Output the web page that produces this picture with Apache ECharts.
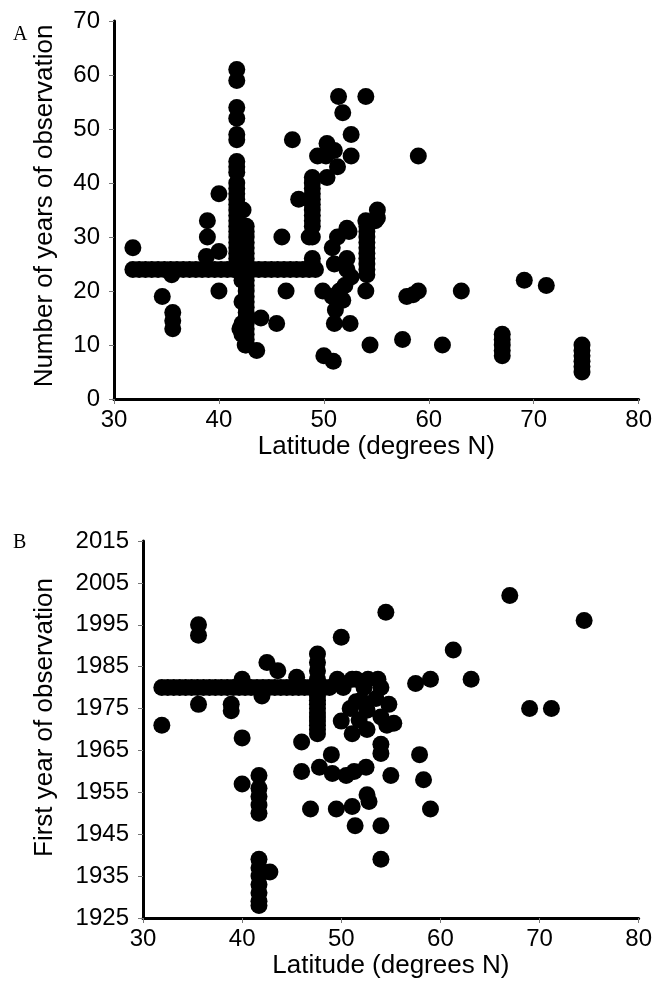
<!DOCTYPE html>
<html>
<head>
<meta charset="utf-8">
<script src="https://cdn.jsdelivr.net/npm/echarts@6/dist/echarts.min.js"></script>
<style>
html, body { margin: 0; padding: 0; background: #fff; }
#chart { width: 655px; height: 988px; }
</style>
</head>
<body>
<div id="chart"></div>
<script>
// panel A: latitude vs number of years of observation
var latA = [
  31.8, 32.4, 33.0, 33.6, 34.2, 34.8, 35.4, 36.0, 36.6, 37.2, 37.8, 38.4, 39.0, 39.6, 40.2, 40.8, 41.4,
  43.2, 43.8, 44.4, 45.0, 45.6, 46.2, 46.8, 47.4, 48.0, 48.6, 49.2,
  31.8, 34.6, 35.5, 35.6, 35.6, 35.6, 38.9, 38.9, 38.8, 40.0, 40.0, 40.0, 42.3,
  47.0, 47.6, 46.0, 46.4, 44.0, 45.5, 42.0, 43.6, 42.5,
  41.7, 41.7, 41.7, 41.7, 41.7, 41.7, 41.7, 41.7, 41.7, 41.7, 41.7, 41.7, 41.7,
  41.7, 41.7, 41.7, 41.7, 41.7, 41.7, 41.7, 41.7, 41.7, 41.7, 41.7, 41.7,
  42.6, 42.6, 42.6, 42.6, 42.6, 42.6, 42.6, 42.6, 42.6, 42.6, 42.6, 42.6,
  42.6, 42.6, 42.6, 42.6, 42.6, 42.6, 42.6, 42.6, 42.6, 42.6, 42.6,
  42.2, 42.2, 42.2, 42.2,
  48.9, 48.9, 48.9, 48.9, 48.9, 48.9, 48.9, 48.9, 48.9, 48.9, 48.9, 48.9, 48.9,
  48.6, 50.3, 51.0, 49.4, 50.2, 52.6, 51.3, 50.3,
  51.4, 54.0, 51.8, 52.6, 59.0,
  55.1, 55.1, 54.0, 54.9,
  54.1, 54.1, 54.1, 54.1, 54.1, 54.1, 54.1, 54.1, 54.1, 54.1,
  52.2, 52.4, 51.3, 50.8, 51.0, 52.2, 52.2, 52.6,
  54.0, 49.9, 50.8, 51.8, 51.1, 51.0, 52.5, 51.5, 52.0,
  54.4, 57.5, 61.3, 50.0, 50.9,
  57.9, 58.5, 59.0, 63.1, 69.1, 71.2,
  67.0, 67.0, 67.0, 67.0, 67.0,
  74.6, 74.6, 74.6, 74.6, 74.6, 74.6
];
var yearsA = [
  24, 24, 24, 24, 24, 24, 24, 24, 24, 24, 24, 24, 24, 24, 24, 24, 24,
  24, 24, 24, 24, 24, 24, 24, 24, 24, 24, 24,
  28, 19, 23, 16, 14.5, 13, 33, 30, 26.4, 27.3, 38, 20, 35,
  48, 37, 30, 20, 15, 14, 13, 9, 10,
  61, 59, 54, 52, 49, 48, 44, 43, 42, 40, 39, 38, 37,
  36, 35, 34, 33, 32, 31, 30, 29, 28, 27, 26, 25,
  32, 31, 30, 29, 28, 27, 26, 25, 24, 23, 22, 21,
  20, 19, 18, 17, 16, 15, 14, 13, 12, 11, 10,
  22, 18, 14, 12,
  41, 40, 39, 38, 37, 36, 35, 34, 33, 32, 30, 26, 25,
  30, 47.3, 46, 45, 45, 45, 43, 41,
  56, 56, 53, 49, 45,
  35, 33.5, 33, 33,
  32, 31, 30, 29, 28, 27, 26, 25, 24, 23,
  31.6, 31, 30, 28, 25, 26, 24, 22.6,
  20, 20, 19, 18.3, 16.5, 14, 14, 20, 21,
  10, 11, 10, 8, 7,
  19, 19.3, 20, 20, 22, 21,
  12, 11, 10, 9, 8,
  10, 9, 8, 7, 6, 5
];

// panel B: latitude vs first year of observation
var latB = [
  31.9, 32.5, 33.1, 33.7, 34.3, 34.9, 35.5, 36.1, 36.7, 37.3, 37.9, 38.5, 39.1, 39.7, 40.3, 40.9,
  41.5, 42.1, 42.7, 43.3, 43.9, 44.5, 45.1, 45.7, 46.3, 46.9, 48.2, 48.8,
  49.6, 50.2, 51.1, 51.5, 52.3, 52.7, 53.7, 54.0,
  31.9, 35.6, 35.6, 35.6, 38.9, 38.9, 40.0, 40.0, 40.0,
  41.7, 41.7, 41.7, 41.7, 41.7, 41.7, 41.7, 41.7, 41.7, 41.7, 41.7, 41.7,
  42.8, 42.5, 42.0, 43.6, 45.5, 46.0, 46.0, 46.9,
  47.6, 47.6, 47.6, 47.6, 47.6, 47.6, 47.6, 47.6, 47.6, 47.6, 47.6, 47.6, 47.6, 47.6,
  47.8, 49.0, 49.1, 50.5, 51.3, 52.5,
  50.0, 50.0, 51.1, 52.6,
  52.0, 53.5, 54.8, 55.3, 54.0, 52.6, 51.8, 51.5, 50.9,
  54.6, 54.0, 54.0, 55.0,
  54.5, 61.3, 63.1, 59.0, 57.5, 67.0, 74.5, 69.0, 71.2,
  57.9, 58.3, 59.0,
  49.5, 51.1, 52.6, 52.8, 51.4, 54.0, 54.0
];
var firstYearB = [
  1980, 1980, 1980, 1980, 1980, 1980, 1980, 1980, 1980, 1980, 1980, 1980, 1980, 1980, 1980, 1980,
  1980, 1980, 1980, 1980, 1980, 1980, 1980, 1980, 1980, 1980, 1980, 1980,
  1982, 1980, 1982, 1982, 1980, 1982, 1982, 1980,
  1971, 1995, 1992.5, 1976, 1976, 1974.5, 1982, 1968, 1957,
  1959, 1956, 1954, 1952, 1950, 1939, 1937, 1935, 1933, 1931, 1929, 1928,
  1936, 1986, 1978, 1984, 1982.5, 1967, 1960, 1951,
  1988, 1986, 1984, 1982, 1978, 1977, 1976, 1975, 1974, 1973, 1972, 1971, 1970, 1969,
  1961, 1964, 1959.5, 1959, 1960, 1961,
  1992, 1972, 1969, 1970,
  1977, 1977.4, 1976, 1971.5, 1973, 1974.6, 1972.3, 1976.6, 1975,
  1971, 1966.5, 1964.3, 1959,
  1998, 1989, 1982, 1982, 1981, 2002, 1996, 1975, 1975,
  1964, 1958, 1951,
  1951, 1951.6, 1954.4, 1952.8, 1947, 1947, 1939
];

var xTicks = [30, 40, 50, 60, 70, 80];
var yTicksA = [0, 10, 20, 30, 40, 50, 60, 70];
var yTicksB = [1925, 1935, 1945, 1955, 1965, 1975, 1985, 1995, 2005, 2015];
var baseYear = yTicksB[0];

var font = 'Liberation Sans, Arial, sans-serif';

function pairs(xs, ys, offset) {
  var out = [];
  for (var i = 0; i < xs.length; i++) out.push([xs[i], ys[i] - offset]);
  return out;
}

function makeAxis(grid, min, max, name, gap, margin, pad, fmt) {
  return {
    type: 'value', gridIndex: grid, min: min, max: max, interval: 10,
    name: name, nameLocation: 'middle', nameGap: gap,
    nameTextStyle: { fontFamily: font, fontSize: 26, color: '#000', padding: pad },
    axisLine: { show: true, onZero: false, lineStyle: { color: '#000', width: 3 } },
    axisTick: { show: true, length: 5, lineStyle: { color: '#777', width: 1 } },
    axisLabel: { fontFamily: font, fontSize: 24, color: '#000', margin: margin, formatter: fmt },
    splitLine: { show: false }
  };
}

var chart = echarts.init(document.getElementById('chart'));
chart.setOption({
  animation: false,
  backgroundColor: '#fff',
  title: [
    { text: 'A', left: 8, top: 20, textStyle: { fontFamily: 'Liberation Serif, serif', fontSize: 20, fontWeight: 'normal', color: '#000' } },
    { text: 'B', left: 8, top: 528, textStyle: { fontFamily: 'Liberation Serif, serif', fontSize: 20, fontWeight: 'normal', color: '#000' } }
  ],
  grid: [
    { left: 114, right: 14, top: 21, height: 378 },
    { left: 143, right: 14, top: 541, height: 377 }
  ],
  xAxis: [
    makeAxis(0, xTicks[0], xTicks[xTicks.length - 1], 'Latitude (degrees N)', 35, 9, 0),
    makeAxis(1, xTicks[0], xTicks[xTicks.length - 1], 'Latitude (degrees N)', 35, 9, 0)
  ],
  yAxis: [
    makeAxis(0, yTicksA[0], yTicksA[yTicksA.length - 1], 'Number of years of observation', 56, 14, [0, 0, 0, 8]),
    makeAxis(1, 0, yTicksB[yTicksB.length - 1] - baseYear, 'First year of observation', 85, 14, [0, 0, 0, 24],
      function (v) { return String(v + baseYear); })
  ],
  series: [
    {
      type: 'scatter', xAxisIndex: 0, yAxisIndex: 0, symbolSize: 17,
      itemStyle: { color: '#000', opacity: 1 },
      data: pairs(latA, yearsA, 0)
    },
    {
      type: 'scatter', xAxisIndex: 1, yAxisIndex: 1, symbolSize: 17,
      itemStyle: { color: '#000', opacity: 1 },
      data: pairs(latB, firstYearB, baseYear)
    }
  ]
});
</script>
</body>
</html>
